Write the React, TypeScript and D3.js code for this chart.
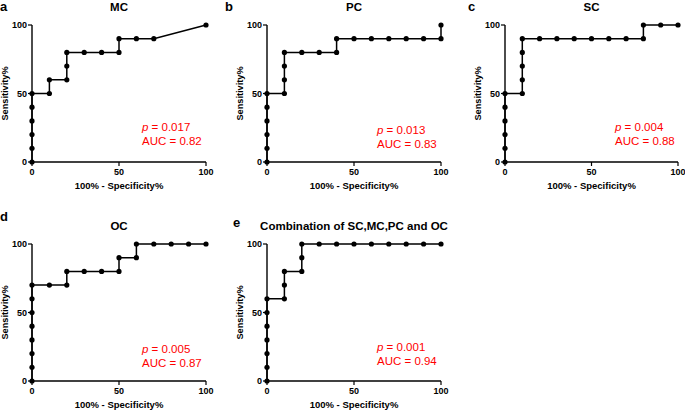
import React from "react";
import * as d3 from "d3";

// ---------- DATA ----------
const mcX = [0, 0, 0, 0, 0, 0, 10, 10, 20, 20, 20, 30, 40, 50, 50, 60, 70, 100];
const mcY = [0, 10, 20, 30, 40, 50, 50, 60, 60, 70, 80, 80, 80, 80, 90, 90, 90, 100];

const pcX = [0, 0, 0, 0, 0, 0, 10, 10, 10, 10, 20, 30, 40, 40, 50, 60, 70, 80, 90, 100, 100];
const pcY = [0, 10, 20, 30, 40, 50, 50, 60, 70, 80, 80, 80, 80, 90, 90, 90, 90, 90, 90, 90, 100];

const scX = [0, 0, 0, 0, 0, 0, 10, 10, 10, 10, 10, 20, 30, 40, 50, 60, 70, 80, 80, 90, 100];
const scY = [0, 10, 20, 30, 40, 50, 50, 60, 70, 80, 90, 90, 90, 90, 90, 90, 90, 90, 100, 100, 100];

const ocX = [0, 0, 0, 0, 0, 0, 0, 0, 10, 20, 20, 30, 40, 50, 50, 60, 60, 70, 80, 90, 100];
const ocY = [0, 10, 20, 30, 40, 50, 60, 70, 70, 70, 80, 80, 80, 80, 90, 90, 100, 100, 100, 100, 100];

const combX = [0, 0, 0, 0, 0, 0, 0, 10, 10, 10, 20, 20, 20, 30, 40, 50, 60, 70, 80, 90, 100];
const combY = [0, 10, 20, 30, 40, 50, 60, 60, 70, 80, 80, 90, 100, 100, 100, 100, 100, 100, 100, 100, 100];

const titles = ["MC", "PC", "SC", "OC", "Combination of SC,MC,PC and OC"];
const panelLetters = ["a", "b", "c", "d", "e"];
const pValues = ["0.017", "0.013", "0.004", "0.005", "0.001"];
const aucValues = ["0.82", "0.83", "0.88", "0.87", "0.94"];
const tickValues = [0, 50, 100];
const xAxisTitle = "100% - Specificity%";
const yAxisTitle = "Sensitivity%";

const seriesX = [mcX, pcX, scX, ocX, combX];
const seriesY = [mcY, pcY, scY, ocY, combY];

// ---------- LAYOUT ----------
const panelLayout = [
  { x0: 32, x1: 206, y0: 162, y1: 25, letterX: 0, letterY: 11, titleY: 11, pY: 131, aucY: 145 },
  { x0: 267, x1: 441, y0: 162, y1: 25, letterX: 225, letterY: 11, titleY: 11, pY: 134, aucY: 148 },
  { x0: 505, x1: 678, y0: 162, y1: 25, letterX: 468, letterY: 11, titleY: 11, pY: 131, aucY: 145 },
  { x0: 32, x1: 206, y0: 381, y1: 244, letterX: 0, letterY: 221, titleY: 230, pY: 353, aucY: 367 },
  { x0: 267, x1: 441, y0: 381, y1: 244, letterX: 233, letterY: 227, titleY: 230, pY: 351, aucY: 365 },
];

const FONT = "'Liberation Sans', Arial, Helvetica, sans-serif";

function Panel({ i }: { i: number }) {
  const L = panelLayout[i];
  const x = d3.scaleLinear().domain([0, 100]).range([L.x0, L.x1]);
  const y = d3.scaleLinear().domain([0, 100]).range([L.y0, L.y1]);
  const pts: [number, number][] = seriesX[i].map((v, k) => [v, seriesY[i][k]]);
  const line = d3
    .line<[number, number]>()
    .x((d) => x(d[0]))
    .y((d) => y(d[1]));
  const xm = (L.x0 + L.x1) / 2;
  const ym = (L.y0 + L.y1) / 2;
  const textX = L.x0 + 110;
  return (
    <g fontFamily={FONT}>
      <text x={L.letterX} y={L.letterY} fontSize={13} fontWeight="bold">
        {panelLetters[i]}
      </text>
      <text x={xm} y={L.titleY} fontSize={11.5} fontWeight="bold" textAnchor="middle">
        {titles[i]}
      </text>
      {/* axes */}
      <line x1={x(0)} x2={x(100)} y1={y(0)} y2={y(0)} stroke="#000" strokeWidth={1.4} />
      <line x1={x(0)} x2={x(0)} y1={y(0)} y2={y(100)} stroke="#000" strokeWidth={1.4} />
      {tickValues.map((t) => (
        <g key={"x" + t}>
          <line x1={x(t)} x2={x(t)} y1={y(0)} y2={y(0) + 4} stroke="#000" strokeWidth={1.2} />
          <text x={x(t)} y={y(0) + 13} fontSize={9} fontWeight="bold" textAnchor="middle">
            {t}
          </text>
        </g>
      ))}
      {tickValues.map((t) => (
        <g key={"y" + t}>
          <line x1={x(0) - 4} x2={x(0)} y1={y(t)} y2={y(t)} stroke="#000" strokeWidth={1.2} />
          <text x={x(0) - 5} y={y(t) + 3.2} fontSize={9} fontWeight="bold" textAnchor="end">
            {t}
          </text>
        </g>
      ))}
      <text x={xm} y={L.y0 + 27} fontSize={9.5} fontWeight="bold" textAnchor="middle">
        {xAxisTitle}
      </text>
      <text
        transform={`translate(${L.x0 - 24},${ym}) rotate(-90)`}
        fontSize={9.2}
        fontWeight="bold"
        textAnchor="middle"
      >
        {yAxisTitle}
      </text>
      <path d={line(pts) || ""} fill="none" stroke="#000" strokeWidth={1.5} />
      {pts.map((p, k) => (
        <circle key={k} cx={x(p[0])} cy={y(p[1])} r={2.6} fill="#000" />
      ))}
      <text x={textX} y={L.pY} fontSize={11.5} fill="#ff0000">
        <tspan fontStyle="italic">p</tspan>
        {" = " + pValues[i]}
      </text>
      <text x={textX} y={L.aucY} fontSize={11.5} fill="#ff0000">
        {"AUC = " + aucValues[i]}
      </text>
    </g>
  );
}

export default function App() {
  return (
    <svg
      width={685}
      height={411}
      style={{ position: "absolute", left: 0, top: 0, background: "#fff" }}
    >
      <rect width={685} height={411} fill="#fff" />
      {[0, 1, 2, 3, 4].map((i) => (
        <Panel key={i} i={i} />
      ))}
    </svg>
  );
}
